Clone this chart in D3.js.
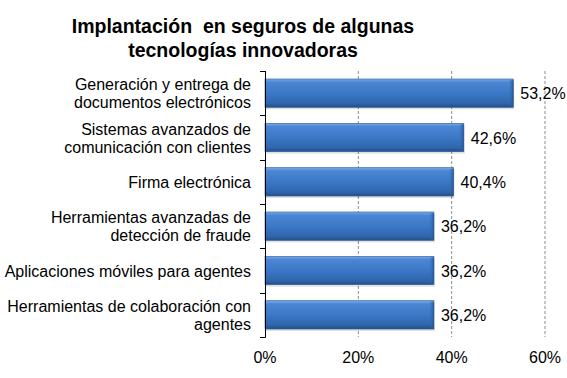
<!DOCTYPE html>
<html><head><meta charset="utf-8">
<script src="https://cdn.jsdelivr.net/npm/d3@7"></script>
<style>body{margin:0;background:#fff}svg{display:block}</style>
</head><body>
<script>
const categories = [
  ["Generación y entrega de","documentos electrónicos"],
  ["Sistemas avanzados de","comunicación con clientes"],
  ["Firma electrónica"],
  ["Herramientas avanzadas de","detección de fraude"],
  ["Aplicaciones móviles para agentes"],
  ["Herramientas de colaboración con","agentes"]
];
const values = [53.2, 42.6, 40.4, 36.2, 36.2, 36.2];
const valueLabels = ["53,2%","42,6%","40,4%","36,2%","36,2%","36,2%"];
const ticks = [0, 20, 40, 60];
const titleLines = ["Implantación  en seguros de algunas","tecnologías innovadoras"];

const W = 567, H = 378;
const svg = d3.select("body").append("svg").attr("width", W).attr("height", H);
const font = "Arial, 'Liberation Sans', sans-serif";

const x = d3.scaleLinear().domain([0, 60]).range([265, 545]);
const y = d3.scaleBand().domain(d3.range(categories.length)).range([71, 337]).paddingInner(0.36).paddingOuter(0.18);
const yOuter = d3.scaleBand().domain(d3.range(categories.length)).range([71, 337]);

const defs = svg.append("defs");
const g = defs.append("linearGradient").attr("id","barg").attr("x1",0).attr("y1",0).attr("x2",0).attr("y2",1);
g.append("stop").attr("offset","0%").attr("stop-color","#7aaae6");
g.append("stop").attr("offset","12%").attr("stop-color","#4a86d4");
g.append("stop").attr("offset","50%").attr("stop-color","#3b78c6");
g.append("stop").attr("offset","85%").attr("stop-color","#2f66ad");
g.append("stop").attr("offset","100%").attr("stop-color","#234f88");
const ge = defs.append("linearGradient").attr("id","endg").attr("x1",0).attr("y1",0).attr("x2",1).attr("y2",0);
ge.append("stop").attr("offset","0%").attr("stop-color","#3a74bf").attr("stop-opacity",0);
ge.append("stop").attr("offset","100%").attr("stop-color","#24538f").attr("stop-opacity",0.9);

// gridlines
svg.append("g").selectAll("line").data(ticks.filter(t => t > 0)).join("line")
  .attr("x1", d => x(d)).attr("x2", d => x(d)).attr("y1", 71).attr("y2", 337)
  .attr("stroke", "#8c8c8c").attr("stroke-dasharray", "3,2").attr("stroke-width", 1);

// bars
const bars = svg.append("g");
values.forEach((v, i) => {
  const by = y(i), bh = y.bandwidth(), bx = x(0), bw = x(v) - x(0);
  bars.append("rect").attr("x", bx+1).attr("y", by+2).attr("width", bw).attr("height", bh)
    .attr("fill", "#000").attr("opacity", 0.12);
  bars.append("rect").attr("x", bx).attr("y", by).attr("width", bw).attr("height", bh)
    .attr("fill", "url(#barg)").attr("stroke", "#2c5d9c").attr("stroke-width", 0.6);
  bars.append("rect").attr("x", bx + bw - 5).attr("y", by + 1).attr("width", 5).attr("height", bh - 2)
    .attr("fill", "url(#endg)");
});

// value labels
svg.append("g").selectAll("text").data(values).join("text")
  .attr("x", d => x(d) + 7).attr("y", (d, i) => y(i) + y.bandwidth()/2 + 6)
  .attr("font-family", font).attr("font-size", 16).attr("fill", "#000")
  .text((d, i) => valueLabels[i]);

// y axis
const ya = svg.append("g");
ya.append("line").attr("x1", 265.5).attr("x2", 265.5).attr("y1", 71).attr("y2", 337.5).attr("stroke", "#000");
ya.selectAll("line.t").data(d3.range(categories.length + 1)).join("line").attr("class","t")
  .attr("x1", 260).attr("x2", 265.5)
  .attr("y1", d => Math.round(d < categories.length ? yOuter(d) : 337) + 0.5)
  .attr("y2", d => Math.round(d < categories.length ? yOuter(d) : 337) + 0.5)
  .attr("stroke", "#000");

// category labels
categories.forEach((lines, i) => {
  const cy = yOuter(i) + yOuter.bandwidth()/2;
  const lh = 18;
  const t = svg.append("text").attr("text-anchor", "end").attr("font-family", font)
    .attr("font-size", 16).attr("fill", "#000");
  lines.forEach((ln, j) => {
    t.append("tspan").attr("x", 251).attr("y", cy + 6 + (j - (lines.length - 1)/2) * lh).text(ln);
  });
});

// x tick labels
svg.append("g").selectAll("text").data(ticks).join("text")
  .attr("x", d => x(d)).attr("y", 363).attr("text-anchor", "middle")
  .attr("font-family", font).attr("font-size", 16).attr("fill", "#000")
  .text(d => d + "%");

// title
const tt = svg.append("text").attr("text-anchor", "middle").attr("font-family", font)
  .attr("font-size", 19.5).attr("font-weight", "bold").attr("fill", "#000");
titleLines.forEach((ln, j) => {
  tt.append("tspan").attr("x", 243).attr("y", 33 + j * 24).attr("xml:space","preserve").text(ln);
});
</script>
</body></html>
